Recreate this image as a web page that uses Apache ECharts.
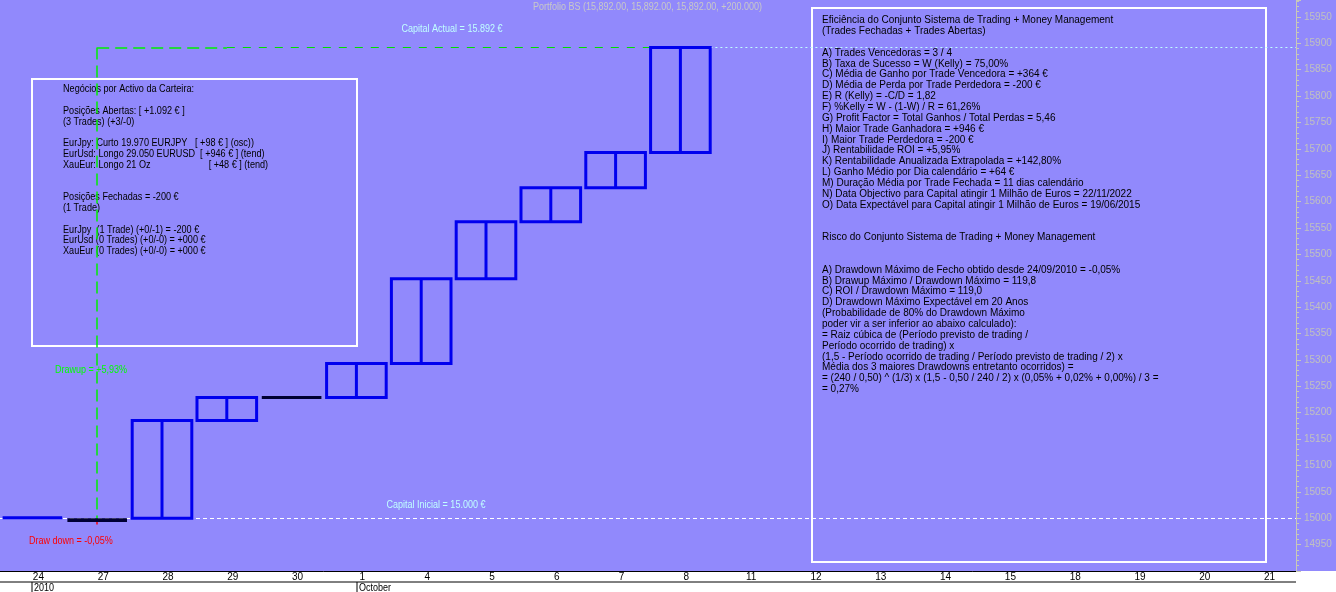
<!DOCTYPE html>
<html><head><meta charset="utf-8">
<script src="https://cdn.jsdelivr.net/npm/echarts@6/dist/echarts.min.js"></script>
<style>html,body{margin:0;padding:0;background:#fff}#c{width:1336px;height:592px}</style>
</head><body><div id="c"></div>
<script>
const categories = ['24','27','28','29','30','1','4','5','6','7','8','11','12','13','14','15','18','19','20','21'];
const openVals  = [15000,15000,15000,15185,15229,15229,15293,15454,15562,15626,15693];
const closeVals = [15001,14993,15185,15229,15229,15293,15454,15562,15626,15693,15892];
const capitalInicial = 15000;
const capitalActual = 15892;
const yTicksInterval = 50;

const F = "'Liberation Sans',Arial,sans-serif";
const SX = 0.9;
const data = openVals.map((o,i)=>[i,o,closeVals[i]]);

const leftText = [
'Negócios por Activo da Carteira:','',
'Posições Abertas: [ +1.092 € ]','(3 Trades) (+3/-0)','',
'EurJpy: Curto 19.970 EURJPY   [ +98 € ] (osc))',
'EurUsd: Longo 29.050 EURUSD  [ +946 € ] (tend)',
'XauEur: Longo 21 Oz                       [ +48 € ] (tend)','','',
'Posições Fechadas = -200 €','(1 Trade)','',
'EurJpy  (1 Trade) (+0/-1) = -200 €',
'EurUsd (0 Trades) (+0/-0) = +000 €',
'XauEur (0 Trades) (+0/-0) = +000 €'].join('\n');

const rightText = [
'Eficiência do Conjunto Sistema de Trading + Money Management',
'(Trades Fechadas + Trades Abertas)','',
'A) Trades Vencedoras = 3 / 4',
'B) Taxa de Sucesso = W (Kelly) = 75,00%',
'C) Média de Ganho por Trade Vencedora = +364 €',
'D) Média de Perda por Trade Perdedora = -200 €',
'E) R (Kelly) = -C/D = 1,82',
'F) %Kelly = W - (1-W) / R = 61,26%',
'G) Profit Factor = Total Ganhos / Total Perdas = 5,46',
'H) Maior Trade Ganhadora = +946 €',
'I) Maior Trade Perdedora = -200 €',
'J) Rentabilidade ROI = +5,95%',
'K) Rentabilidade Anualizada Extrapolada = +142,80%',
'L) Ganho Médio por Dia calendário = +64 €',
'M) Duração Média por Trade Fechada = 11 dias calendário',
'N) Data Objectivo para Capital atingir 1 Milhão de Euros = 22/11/2022',
'O) Data Expectável para Capital atingir 1 Milhão de Euros = 19/06/2015','','',
'Risco do Conjunto Sistema de Trading + Money Management','','',
'A) Drawdown Máximo de Fecho obtido desde 24/09/2010 = -0,05%',
'B) Drawup Máximo / Drawdown Máximo = 119,8',
'C) ROI / Drawdown Máximo = 119,0',
'D) Drawdown Máximo Expectável em 20 Anos',
'(Probabilidade de 80% do Drawdown Máximo',
'poder vir a ser inferior ao abaixo calculado):',
'= Raiz cúbica de (Período previsto de trading /',
'Período ocorrido de trading) x',
'(1,5 - Período ocorrido de trading / Período previsto de trading / 2) x',
'Média dos 3 maiores Drawdowns entretanto ocorridos) =',
'= (240 / 0,50) ^ (1/3) x (1,5 - 0,50 / 240 / 2) x (0,05% + 0,02% + 0,00%) / 3 =',
'= 0,27%'].join('\n');

function txt(x,y,text,fill,extra){
  return {type:'text',x:x,y:y,scaleX:SX,style:Object.assign({text:text,fill:fill,font:'10px '+F,verticalAlign:'middle'},extra||{})};
}

const chart = echarts.init(document.getElementById('c'));
chart.setOption({
  animation:false,
  backgroundColor:'#ffffff',
  grid:{left:0,right:40,top:0,bottom:21,show:false},
  xAxis:{type:'category',data:categories,boundaryGap:true,
    axisLine:{lineStyle:{color:'#000',width:1}},
    axisTick:{alignWithLabel:true,length:-4,lineStyle:{color:'#000'}},
    axisLabel:{color:'#000',fontSize:10,fontFamily:F,margin:1,padding:[0,0,0,12]},
    splitLine:{show:false}},
  yAxis:{type:'value',position:'right',min:14900,max:15982,interval:yTicksInterval,
    axisLine:{show:true,lineStyle:{color:'#c8c8b8'}},
    axisTick:{show:true,length:5,lineStyle:{color:'#c8c8b8'}},
    minorTick:{show:true,splitNumber:5,length:3,lineStyle:{color:'#c8c8b8'}},
    axisLabel:{color:'#c0c0c0',fontSize:10,fontFamily:F,showMinLabel:false,showMaxLabel:false,margin:8,
      formatter:v=>String(v)},
    splitLine:{show:false}},
  series:[
    {type:'custom',data:data,z:5,
     renderItem:function(params,api){
       const i=api.value(0),o=api.value(1),c=api.value(2);
       const p1=api.coord([i,o]),p2=api.coord([i,c]);
       const w=api.size([1,0])[0]*0.92;
       const x0=p1[0]-w/2;
       const top=Math.min(p1[1],p2[1]),h=Math.abs(p1[1]-p2[1]);
       if(c<o){
         return {type:'rect',shape:{x:x0,y:top,width:w,height:Math.max(h,3)},style:{fill:'#000033'}};
       }
       if(h<3){
         return {type:'rect',shape:{x:x0,y:top-1.5,width:w,height:3},style:{fill:(i===4?'#000033':'#0000ee')}};
       }
       return {type:'group',children:[
         {type:'rect',shape:{x:x0,y:top,width:w,height:h},style:{fill:'none',stroke:'#0000ee',lineWidth:3}},
         {type:'line',shape:{x1:p1[0],y1:top,x2:p1[0],y2:top+h},style:{stroke:'#0000ee',lineWidth:3}}
       ]};
     }},
    {type:'line',data:[],markLine:{symbol:'none',silent:true,label:{show:false},
      data:[[{coord:[0,capitalInicial],x:0},{x:1296,coord:[19,capitalInicial]}]],
      lineStyle:{color:'#ffffff',type:[4,3],width:1}}},
    {type:'line',data:[],markLine:{symbol:'none',silent:true,label:{show:false},
      data:[[{coord:[10,capitalActual]},{x:1296,yAxis:capitalActual}]],
      lineStyle:{color:'#c0ffff',type:[2,3],width:1}}},
    {type:'line',data:[],markLine:{symbol:'none',silent:true,label:{show:false},
      data:[[{coord:[1,capitalActual]},{coord:[1,closeVals[1]]}],
            [{coord:[1,capitalActual]},{coord:[3,capitalActual]}]],
      lineStyle:{color:'#00ee00',type:[12,6],width:1.5}}},
    {type:'line',data:[],markLine:{symbol:'none',silent:true,label:{show:false},
      data:[[{coord:[3,capitalActual]},{coord:[10,capitalActual]}]],
      lineStyle:{color:'#00dd00',type:[8,8],width:1}}},
    {type:'line',data:[],markLine:{symbol:'none',silent:true,label:{show:false},
      data:[[{coord:[1,closeVals[1]]},{coord:[1,14988]}]],
      lineStyle:{color:'#ff0000',type:'solid',width:1.5}}}
  ],
  graphic:[
    {type:'rect',z:-10,silent:true,shape:{x:0,y:0,width:1336,height:571},style:{fill:'#9189fc'}},
    {type:'rect',shape:{x:32,y:79,width:325,height:267},style:{fill:'none',stroke:'#fff',lineWidth:2}},
    {type:'rect',shape:{x:812,y:8,width:454,height:554},style:{fill:'none',stroke:'#fff',lineWidth:2}},
    {type:'text',x:63,y:84,scaleX:0.91,style:{text:leftText,fill:'#000',font:'10px '+F,lineHeight:10.8}},
    {type:'text',x:822,y:15,scaleX:1,style:{text:rightText,fill:'#000',font:'10px '+F,lineHeight:10.85}},
    txt(762,7,'Portfolio BS (15,892.00, 15,892.00, 15,892.00, +200.000)','#c8c8c8',{align:'right'}),
    txt(452,29,'Capital Actual = 15.892 €','#c0ffff',{align:'center'}),
    txt(436,505,'Capital Inicial = 15.000 €','#c0ffff',{align:'center'}),
    txt(29,541,'Draw down = -0,05%','#ff0000'),
    txt(55,370,'Drawup = +5,93%','#00ff00'),
    {type:'line',shape:{x1:0,y1:582,x2:1296,y2:582},style:{stroke:'#000',lineWidth:1}},
    {type:'line',shape:{x1:32,y1:582,x2:32,y2:592},style:{stroke:'#000',lineWidth:1}},
    {type:'line',shape:{x1:357,y1:582,x2:357,y2:592},style:{stroke:'#000',lineWidth:1}},
    txt(34,588,'2010','#000'),
    txt(359,588,'October','#000')
  ]
});
</script></body></html>
